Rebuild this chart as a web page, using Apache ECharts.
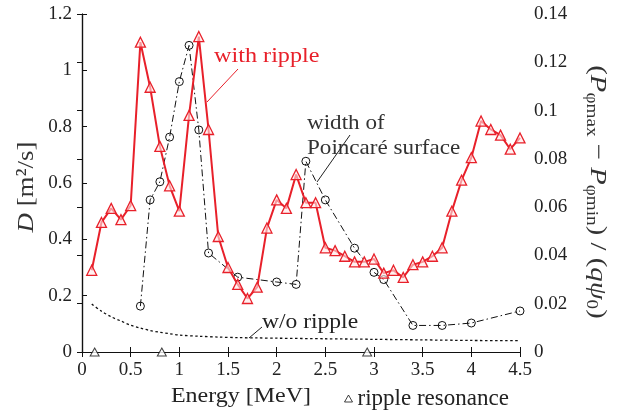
<!DOCTYPE html>
<html>
<head>
<meta charset="utf-8">
<script src="https://cdn.jsdelivr.net/npm/echarts@6/dist/echarts.min.js"></script>
<style>
  html, body { margin: 0; padding: 0; background: #fff; }
  #main { width: 617px; height: 415px; }
</style>
</head>
<body>
<div id="main"></div>
<script>
// 数据
var energyRipple = [0.1, 0.2, 0.3, 0.4, 0.5, 0.6, 0.7, 0.8, 0.9, 1.0, 1.1, 1.2, 1.3, 1.4, 1.5,
    1.6, 1.7, 1.8, 1.9, 2.0, 2.1, 2.2, 2.3, 2.4, 2.5, 2.6, 2.7, 2.8, 2.9, 3.0,
    3.1, 3.2, 3.3, 3.4, 3.5, 3.6, 3.7, 3.8, 3.9, 4.0, 4.1, 4.2, 4.3, 4.4, 4.5];
var dRipple = [0.29, 0.46, 0.51, 0.47, 0.52, 1.10, 0.94, 0.73, 0.59, 0.50, 0.84, 1.12, 0.79, 0.41, 0.30,
    0.24, 0.19, 0.23, 0.44, 0.54, 0.51, 0.63, 0.53, 0.53, 0.37, 0.36, 0.34, 0.32, 0.32, 0.33,
    0.28, 0.29, 0.265, 0.31, 0.32, 0.34, 0.37, 0.50, 0.61, 0.69, 0.82, 0.79, 0.77, 0.72, 0.76];

var energyPoincare = [0.6, 0.7, 0.8, 0.9, 1.0, 1.1, 1.2, 1.3, 1.6, 2.0, 2.2, 2.3, 2.5, 2.8, 3.0, 3.1, 3.4, 3.7, 4.0, 4.5];
var widthPoincare = [0.019, 0.063, 0.0705, 0.089, 0.112, 0.127, 0.092, 0.041, 0.031, 0.029, 0.028, 0.079, 0.063, 0.043, 0.033, 0.030, 0.011, 0.011, 0.012, 0.017];

var energyNoRipple = [0.1, 0.2, 0.3, 0.4, 0.5, 0.6, 0.7, 0.8, 0.9, 1.0, 1.2, 1.4, 1.6, 1.8, 2.0, 2.5, 3.0, 3.5, 4.0, 4.5];
var dNoRipple = [0.17, 0.145, 0.125, 0.11, 0.095, 0.085, 0.076, 0.07, 0.065, 0.06, 0.056, 0.053, 0.051, 0.05, 0.049, 0.047, 0.045, 0.043, 0.041, 0.04];

var resonanceEnergy = [0.13, 0.82, 2.93];

var SERIF = 'Liberation Serif';
var RED = '#e8202a';

function pairs(xs, ys) {
    return xs.map(function (x, i) { return [x, ys[i]]; });
}

var myChart = echarts.init(document.getElementById('main'));

var axisLine = { lineStyle: { color: '#111', width: 1.2 } };
var tickIn = { inside: true, length: 5, lineStyle: { color: '#111', width: 1 } };
var labelStyle = { fontFamily: SERIF, fontSize: 19, color: '#222' };

var option = {
    animation: false,
    backgroundColor: '#fff',
    grid: { left: 82, right: 97, top: 14, bottom: 63 },
    legend: {
        data: [{ name: 'ripple resonance', icon: 'triangle' }],
        left: 339, top: 382,
        itemWidth: 8, itemHeight: 7, itemGap: 9,
        itemStyle: { color: '#fff', borderColor: '#111', borderWidth: 1 },
        textStyle: { fontFamily: SERIF, fontSize: 23, color: '#222' }
    },
    xAxis: [
        {
            type: 'value', min: 0, max: 4.5, interval: 0.5,
            axisLine: axisLine, axisTick: tickIn, splitLine: { show: false },
            axisLabel: Object.assign({ margin: 9 }, labelStyle)
        },
        {
            type: 'value', position: 'top', min: 0, max: 4.5, interval: 0.5,
            axisLine: axisLine, axisTick: tickIn, splitLine: { show: false },
            axisLabel: { show: false }
        }
    ],
    yAxis: [
        {
            type: 'value', min: 0, max: 1.2, interval: 0.2,
            axisLine: Object.assign({ show: true }, axisLine), axisTick: tickIn, splitLine: { show: false },
            axisLabel: Object.assign({ margin: 10 }, labelStyle)
        },
        {
            type: 'value', position: 'right', min: 0, max: 0.14, interval: 0.02,
            axisLine: Object.assign({ show: true }, axisLine), axisTick: tickIn, splitLine: { show: false },
            axisLabel: Object.assign({ margin: 14 }, labelStyle)
        }
    ],
    series: [
        {
            name: 'w/o ripple',
            type: 'line',
            yAxisIndex: 0,
            data: pairs(energyNoRipple, dNoRipple),
            symbol: 'none',
            smooth: 0.3,
            lineStyle: { color: '#111', width: 1.3, type: [2.5, 2.5] },
            z: 2
        },
        {
            name: 'width of Poincaré surface',
            type: 'line',
            yAxisIndex: 1,
            data: pairs(energyPoincare, widthPoincare),
            symbol: 'circle',
            symbolSize: 8,
            itemStyle: { color: 'rgba(255,255,255,0)', borderColor: '#111', borderWidth: 1 },
            lineStyle: { color: '#111', width: 1, type: [7, 3, 1.5, 3] },
            z: 3
        },
        {
            name: 'with ripple',
            type: 'line',
            yAxisIndex: 0,
            data: pairs(energyRipple, dRipple),
            symbol: 'triangle',
            symbolSize: 10,
            itemStyle: { color: 'rgba(255,230,230,0.6)', borderColor: RED, borderWidth: 1.3 },
            lineStyle: { color: RED, width: 2 },
            z: 4
        },
        {
            name: 'ripple resonance',
            type: 'scatter',
            yAxisIndex: 0,
            clip: false,
            data: resonanceEnergy.map(function (e) { return [e, 0]; }),
            symbol: 'triangle',
            symbolSize: [9, 8],
            itemStyle: { color: '#fff', borderColor: '#111', borderWidth: 1 },
            z: 5
        }
    ],
    graphic: [
        // y axis titles
        {
            type: 'text', x: 27, y: 187, rotation: Math.PI / 2, scaleX: 1.12,
            style: {
                text: '{i|D}{n| [m²/s]}',
                fill: '#333', font: 'normal 24px "Liberation Serif"',
                textAlign: 'center', textVerticalAlign: 'middle',
                rich: {
                    i: { fontStyle: 'italic', fontWeight: 'normal', fontFamily: SERIF, fontSize: 24 },
                    n: { fontWeight: 'normal', fontFamily: SERIF, fontSize: 24 }
                }
            }
        },
        {
            type: 'text', x: 597, y: 192, rotation: -Math.PI / 2, scaleX: 1.2,
            style: {
                text: '{n|(}{i|P}{s|φmax}{n| − }{i|P}{s|φmin}{n|) / (}{i|qψ}{s|0}{n|)}',
                fill: '#333', font: 'normal 24px "Liberation Serif"',
                textAlign: 'center', textVerticalAlign: 'middle',
                rich: {
                    n: { fontWeight: 'normal', fontFamily: SERIF, fontSize: 24, lineHeight: 28 },
                    i: { fontStyle: 'italic', fontWeight: 'normal', fontFamily: SERIF, fontSize: 24, lineHeight: 28 },
                    s: { fontWeight: 'normal', fontFamily: SERIF, fontSize: 16, lineHeight: 16, verticalAlign: 'bottom' }
                }
            }
        },
        // x axis title
        {
            type: 'text', x: 241, y: 396, scaleX: 1.09,
            style: {
                text: 'Energy [MeV]', fill: '#222', font: '22px "Liberation Serif"',
                textAlign: 'center', textVerticalAlign: 'middle'
            }
        },
        // annotations
        {
            type: 'text', x: 214, y: 56, scaleX: 1.1,
            style: { text: 'with ripple', fill: RED, font: '22px "Liberation Serif"', textVerticalAlign: 'middle' }
        },
        {
            type: 'line', shape: { x1: 238, y1: 69, x2: 207, y2: 102 },
            style: { stroke: RED, lineWidth: 1 }
        },
        {
            type: 'text', x: 307, y: 123, scaleX: 1.1,
            style: { text: 'width of', fill: '#333', font: '21px "Liberation Serif"', textVerticalAlign: 'middle' }
        },
        {
            type: 'text', x: 307, y: 148, scaleX: 1.1,
            style: { text: 'Poincaré surface', fill: '#333', font: '21px "Liberation Serif"', textVerticalAlign: 'middle' }
        },
        {
            type: 'line', shape: { x1: 350, y1: 135, x2: 317, y2: 182 },
            style: { stroke: '#222', lineWidth: 1 }
        },
        {
            type: 'text', x: 262, y: 322, scaleX: 1.07,
            style: { text: 'w/o ripple', fill: '#222', font: '22px "Liberation Serif"', textVerticalAlign: 'middle' }
        },
        {
            type: 'line', shape: { x1: 262, y1: 327, x2: 249, y2: 338 },
            style: { stroke: '#222', lineWidth: 1 }
        }
    ]
};

myChart.setOption(option);
</script>
</body>
</html>
